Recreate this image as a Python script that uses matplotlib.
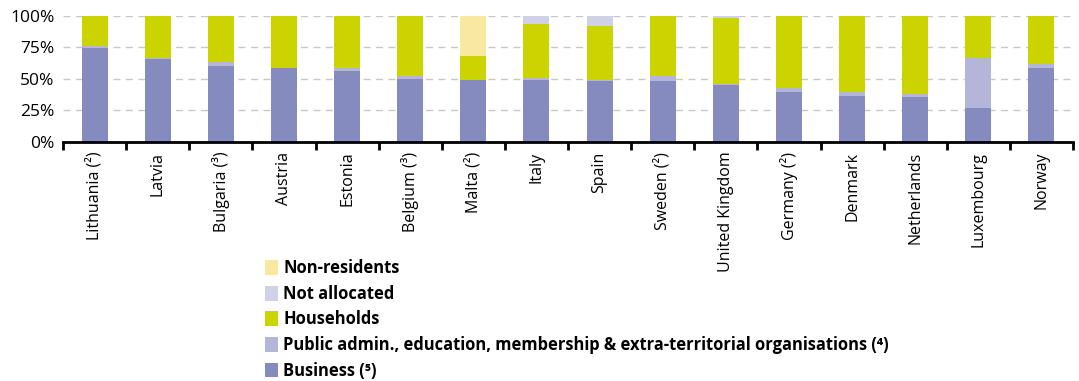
import matplotlib
matplotlib.use("Agg")
import matplotlib.pyplot as plt
import numpy as np
from matplotlib.patches import Patch
from matplotlib.ticker import FuncFormatter

plt.rcParams['font.family'] = ['Open Sans', 'DejaVu Sans']

countries = ["Lithuania (²)", "Latvia", "Bulgaria (³)", "Austria", "Estonia",
             "Belgium (³)", "Malta (²)", "Italy", "Spain", "Sweden (²)",
             "United Kingdom", "Germany (²)", "Denmark", "Netherlands",
             "Luxembourg", "Norway"]

# shares in % of total
business = [74.6, 65.6, 60.1, 58.5, 56.1, 49.7, 48.9, 48.9, 48.1, 48.1,
            45.0, 39.4, 36.2, 35.4, 26.7, 58.5]
public = [1.6, 1.6, 3.4, 0.3, 3.2, 2.7, 0.6, 1.6, 0.8, 4.5,
          1.0, 3.5, 4.0, 2.4, 40.5, 3.4]
households = [23.8, 32.8, 36.5, 41.2, 40.7, 47.6, 18.8, 42.9, 42.9, 47.4,
              52.1, 57.1, 59.8, 62.2, 32.8, 38.1]
not_allocated = [0.0, 0.0, 0.0, 0.0, 0.0, 0.0, 0.0, 6.6, 8.2, 0.0,
                 1.9, 0.0, 0.0, 0.0, 0.0, 0.0]
non_residents = [0.0, 0.0, 0.0, 0.0, 0.0, 0.0, 31.7, 0.0, 0.0, 0.0,
                 0.0, 0.0, 0.0, 0.0, 0.0, 0.0]

series = [
    ("Business (⁵)", business, "#858bbf"),
    ("Public admin., education, membership & extra-territorial organisations (⁴)", public, "#b3b6d9"),
    ("Households", households, "#ccd400"),
    ("Not allocated", not_allocated, "#d0d0e6"),
    ("Non-residents", non_residents, "#f9e8a0"),
]

fig = plt.figure(figsize=(10.79, 3.81), dpi=100)
ax = fig.add_axes([63 / 1079, 1 - 142 / 381, 1010 / 1079, (142 - 15.7) / 381])

x = np.arange(len(countries))
bottom = np.zeros(len(countries))
handles = []
for label, vals, color in series:
    vals = np.array(vals)
    ax.bar(x, vals, width=0.41, bottom=bottom, color=color, zorder=2)
    bottom += vals
    handles.append(Patch(facecolor=color, label=label))

ax.set_xlim(-0.5, len(countries) - 0.5)
ax.set_ylim(0, 100)
ax.set_yticks([0, 25, 50, 75, 100])
ax.yaxis.set_major_formatter(FuncFormatter(lambda v, p: f"{v:.0f}%"))
ax.yaxis.grid(True, color="#c8c8c8", linestyle=(0, (5, 4)), linewidth=1.0, zorder=0)
ax.set_axisbelow(True)

for s in ["top", "right", "left"]:
    ax.spines[s].set_visible(False)
ax.spines["bottom"].set_linewidth(2)
ax.spines["bottom"].set_color("black")

ax.tick_params(axis="y", length=0, labelsize=12.5, pad=6)
ax.set_xticks(x)
ax.set_xticklabels(countries, rotation=90, fontsize=11.5)
ax.tick_params(axis="x", which="major", length=0, pad=7)
ax.set_xticks(np.arange(-0.5, len(countries)), minor=True)
ax.tick_params(axis="x", which="minor", length=6, width=2, direction="out", color="black")

fig.legend(handles=handles[::-1], loc="upper left",
           bbox_to_anchor=(257 / 1079, 1 - 251 / 381), frameon=False,
           prop={"weight": "bold", "size": 11.9},
           handlelength=0.75, handleheight=1.0, handletextpad=0.35,
           labelspacing=0.46, borderpad=0.0)

fig.savefig("out.png", dpi=100)
